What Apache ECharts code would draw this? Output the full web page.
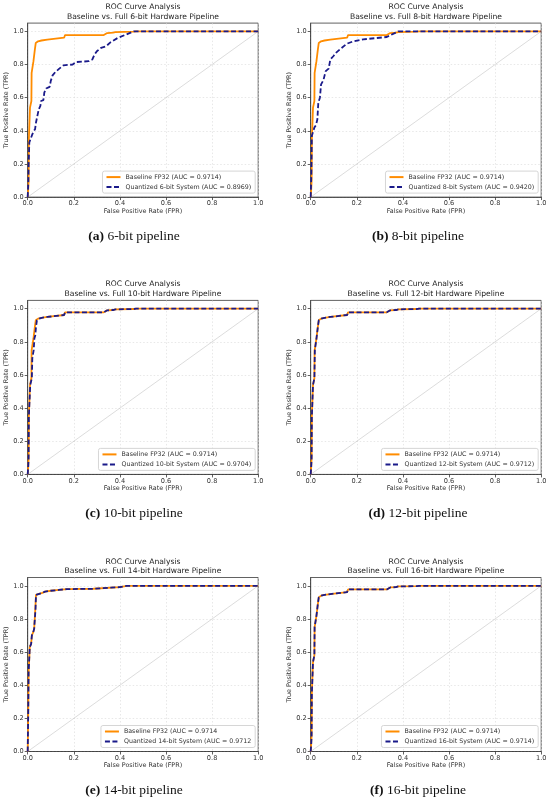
<!DOCTYPE html>
<html>
<head>
<meta charset="utf-8">
<script src="https://cdn.jsdelivr.net/npm/echarts@6/dist/echarts.min.js"></script>
<style>
html,body{margin:0;padding:0;background:#fff;}
#chart{width:550px;height:802px;}
</style>
</head>
<body>
<div id="chart"></div>
<script>
// 数据：ROC 曲线 (FPR, TPR)
var xTicks = [0, 0.2, 0.4, 0.6, 0.8, 1.0];
var yTicks = [0, 0.2, 0.4, 0.6, 0.8, 1.0];
var diagonal = [[0, 0], [1, 1]];

var baseRoc = [[0,0],[0.002,0.04],[0.004,0.1],[0.005,0.35],[0.009,0.35],[0.01,0.54],[0.014,0.55],[0.016,0.58],[0.017,0.75],[0.024,0.75],[0.025,0.82],[0.028,0.83],[0.031,0.89],[0.035,0.93],[0.045,0.94],[0.06,0.945],[0.085,0.95],[0.09,0.962],[0.158,0.962],[0.162,0.978],[0.33,0.978],[0.345,0.99],[0.37,0.992],[0.38,0.996],[0.46,0.998],[0.47,1],[1,1]];
var base14Roc = [[0,0],[0.002,0.2],[0.003,0.33],[0.004,0.48],[0.008,0.49],[0.009,0.63],[0.015,0.65],[0.018,0.7],[0.024,0.72],[0.028,0.74],[0.032,0.74],[0.033,0.86],[0.036,0.945],[0.046,0.95],[0.06,0.955],[0.075,0.965],[0.1,0.97],[0.135,0.975],[0.17,0.98],[0.285,0.982],[0.292,0.99],[0.4,0.992],[0.43,1],[1,1]];

var q6Roc = [[0,0],[0.003,0.1],[0.004,0.19],[0.007,0.19],[0.007,0.33],[0.014,0.335],[0.019,0.375],[0.025,0.395],[0.032,0.41],[0.036,0.45],[0.043,0.46],[0.048,0.53],[0.055,0.55],[0.058,0.58],[0.068,0.585],[0.072,0.63],[0.08,0.655],[0.095,0.665],[0.1,0.7],[0.108,0.735],[0.12,0.755],[0.137,0.775],[0.155,0.795],[0.195,0.8],[0.21,0.815],[0.265,0.82],[0.28,0.83],[0.29,0.86],[0.3,0.88],[0.318,0.9],[0.34,0.91],[0.36,0.935],[0.39,0.96],[0.425,0.98],[0.46,1],[1,1]];
var q8Roc = [[0,0],[0.003,0.15],[0.005,0.37],[0.012,0.38],[0.016,0.42],[0.023,0.435],[0.029,0.47],[0.033,0.57],[0.04,0.6],[0.045,0.68],[0.055,0.705],[0.065,0.76],[0.078,0.775],[0.085,0.83],[0.098,0.85],[0.113,0.875],[0.134,0.9],[0.156,0.925],[0.185,0.94],[0.228,0.952],[0.286,0.96],[0.33,0.966],[0.35,0.98],[0.38,1],[1,1]];
var q10Roc = [[0,0],[0.002,0.04],[0.004,0.1],[0.005,0.35],[0.009,0.35],[0.011,0.54],[0.015,0.55],[0.018,0.58],[0.02,0.7],[0.026,0.75],[0.029,0.82],[0.033,0.84],[0.036,0.89],[0.04,0.93],[0.05,0.94],[0.06,0.945],[0.085,0.95],[0.09,0.962],[0.158,0.962],[0.162,0.978],[0.33,0.978],[0.345,0.99],[0.37,0.992],[0.38,0.996],[0.46,0.998],[0.47,1],[1,1]];
var q12Roc = [[0,0],[0.002,0.04],[0.004,0.1],[0.005,0.35],[0.009,0.35],[0.01,0.54],[0.014,0.55],[0.016,0.58],[0.018,0.75],[0.024,0.75],[0.025,0.82],[0.028,0.83],[0.031,0.89],[0.035,0.93],[0.045,0.94],[0.06,0.945],[0.085,0.95],[0.09,0.962],[0.158,0.962],[0.162,0.978],[0.33,0.978],[0.345,0.99],[0.37,0.992],[0.38,0.996],[0.46,0.998],[0.47,1],[1,1]];
var q14Roc = [[0,0],[0.002,0.2],[0.003,0.33],[0.004,0.48],[0.008,0.49],[0.009,0.63],[0.015,0.65],[0.018,0.7],[0.024,0.72],[0.028,0.74],[0.033,0.74],[0.034,0.86],[0.036,0.945],[0.046,0.95],[0.06,0.955],[0.075,0.965],[0.1,0.97],[0.135,0.975],[0.17,0.98],[0.285,0.982],[0.292,0.99],[0.4,0.992],[0.43,1],[1,1]];
var q16Roc = baseRoc;

var baseCurves = [baseRoc, baseRoc, baseRoc, baseRoc, base14Roc, baseRoc];
var quantCurves = [q6Roc, q8Roc, q10Roc, q12Roc, q14Roc, q16Roc];
var bits = ['6', '8', '10', '12', '14', '16'];
var letters = ['a', 'b', 'c', 'd', 'e', 'f'];
var baseNames = ['Baseline FP32 (AUC = 0.9714)', 'Baseline FP32 (AUC = 0.9714)', 'Baseline FP32 (AUC = 0.9714)',
                 'Baseline FP32 (AUC = 0.9714)', 'Baseline FP32 (AUC = 0.9714', 'Baseline FP32 (AUC = 0.9714)'];
var quantNames = ['Quantized 6-bit System (AUC = 0.8969)', 'Quantized 8-bit System (AUC = 0.9420)',
                  'Quantized 10-bit System (AUC = 0.9704)', 'Quantized 12-bit System (AUC = 0.9712)',
                  'Quantized 14-bit System (AUC = 0.9712', 'Quantized 16-bit System (AUC = 0.9714)'];

// 布局
var colLeft = [27.7, 310.7];
var rowTop = [23.1, 300.4, 577.5];
var gW = 230.5, gH = 174;
var capX = [134, 418];
var FONT = 'DejaVu Sans';
var ORANGE = '#ff8c00', NAVY = '#1a1a8a';

var chart = echarts.init(document.getElementById('chart'), null, {renderer: 'canvas'});

var grids = [], xAxes = [], yAxes = [], series = [], legends = [], graphics = [];

for (var i = 0; i < 6; i++) {
    var col = i % 2, row = Math.floor(i / 2);
    var L = colLeft[col], T = rowTop[row];

    grids.push({
        left: L, top: T, width: gW, height: gH,
        show: true, borderColor: '#3a3a3a', borderWidth: 0.8,
        backgroundColor: '#fff', containLabel: false, outerBoundsMode: 'none'
    });

    xAxes.push({
        gridIndex: i, type: 'value', min: 0, max: 1, interval: 0.2,
        axisLine: {show: true, onZero: false, lineStyle: {color: '#3a3a3a', width: 0.8}},
        axisTick: {show: true, length: 3, customValues: xTicks, lineStyle: {color: '#3a3a3a', width: 0.8}},
        axisLabel: {
            fontSize: 6.6, color: '#333', margin: 3, fontFamily: FONT, customValues: xTicks,
            formatter: function (v) { return v.toFixed(1); }
        },
        splitLine: {show: true, lineStyle: {color: '#d8d8d8', width: 0.6, type: [1.5, 2]}},
        name: 'False Positive Rate (FPR)', nameLocation: 'middle', nameGap: 11,
        nameTextStyle: {fontSize: 6.4, color: '#333', fontFamily: FONT, verticalAlign: 'top'}
    });

    yAxes.push({
        gridIndex: i, type: 'value', min: 0, max: 1.05, interval: 0.2,
        axisLine: {show: true, onZero: false, lineStyle: {color: '#3a3a3a', width: 0.8}},
        axisTick: {show: true, length: 3, customValues: yTicks, lineStyle: {color: '#3a3a3a', width: 0.8}},
        axisLabel: {
            fontSize: 6.6, color: '#333', margin: 4, fontFamily: FONT, customValues: yTicks,
            formatter: function (v) { return v.toFixed(1); }
        },
        splitLine: {show: true, lineStyle: {color: '#d8d8d8', width: 0.6, type: [1.5, 2]}},
        name: 'True Positive Rate (TPR)', nameLocation: 'middle', nameGap: 18,
        nameTextStyle: {fontSize: 6.4, color: '#333', fontFamily: FONT}
    });

    series.push({
        name: 'diag' + i, type: 'line', xAxisIndex: i, yAxisIndex: i,
        data: diagonal, symbol: 'none', silent: true, z: 1,
        lineStyle: {color: '#c4c4c4', width: 0.6}
    });
    series.push({
        name: baseNames[i], type: 'line', xAxisIndex: i, yAxisIndex: i,
        data: baseCurves[i], symbol: 'none', showSymbol: false, z: 2,
        itemStyle: {color: ORANGE},
        lineStyle: {color: ORANGE, width: 1.8}
    });
    series.push({
        name: quantNames[i], type: 'line', xAxisIndex: i, yAxisIndex: i,
        data: quantCurves[i], symbol: 'none', showSymbol: false, z: 3,
        itemStyle: {color: NAVY},
        lineStyle: {color: NAVY, width: 1.8, type: [5, 2.5]}
    });

    legends.push({
        orient: 'vertical',
        right: 550 - (L + gW) + 3,
        top: T + gH - 26,
        data: [baseNames[i], quantNames[i]],
        itemWidth: 14, itemHeight: 6, itemGap: 4,
        padding: [3, 4, 3, 3],
        borderColor: '#cccccc', borderWidth: 0.8, borderRadius: 2,
        backgroundColor: 'rgba(255,255,255,0.85)',
        selectedMode: false,
        itemStyle: {color: 'rgba(0,0,0,0)', borderWidth: 0, opacity: 0},
        textStyle: {fontSize: 6.3, color: '#333', fontFamily: FONT}
    });

    // 图标题
    graphics.push({
        type: 'text', x: L + gW / 2, y: T - 11.2, silent: true,
        style: {
            text: 'ROC Curve Analysis\nBaseline vs. Full ' + bits[i] + '-bit Hardware Pipeline',
            align: 'center', verticalAlign: 'middle', lineHeight: 9.4,
            fontSize: 7.6, fontFamily: FONT, fill: '#222'
        }
    });
    // 子图说明
    graphics.push({
        type: 'text', x: capX[col], y: T + 213.4, silent: true,
        style: {
            text: '{b|(' + letters[i] + ')} ' + bits[i] + '-bit pipeline',
            align: 'center', verticalAlign: 'middle',
            fontSize: 13.5, fontFamily: 'Liberation Serif', fill: '#111',
            rich: {b: {fontWeight: 'bold', fontSize: 13.5, fontFamily: 'Liberation Serif', fill: '#111'}}
        }
    });
}

var option = {
    animation: false,
    backgroundColor: '#fff',
    grid: grids,
    xAxis: xAxes,
    yAxis: yAxes,
    legend: legends,
    series: series,
    graphic: graphics
};
chart.setOption(option);
</script>
</body>
</html>
